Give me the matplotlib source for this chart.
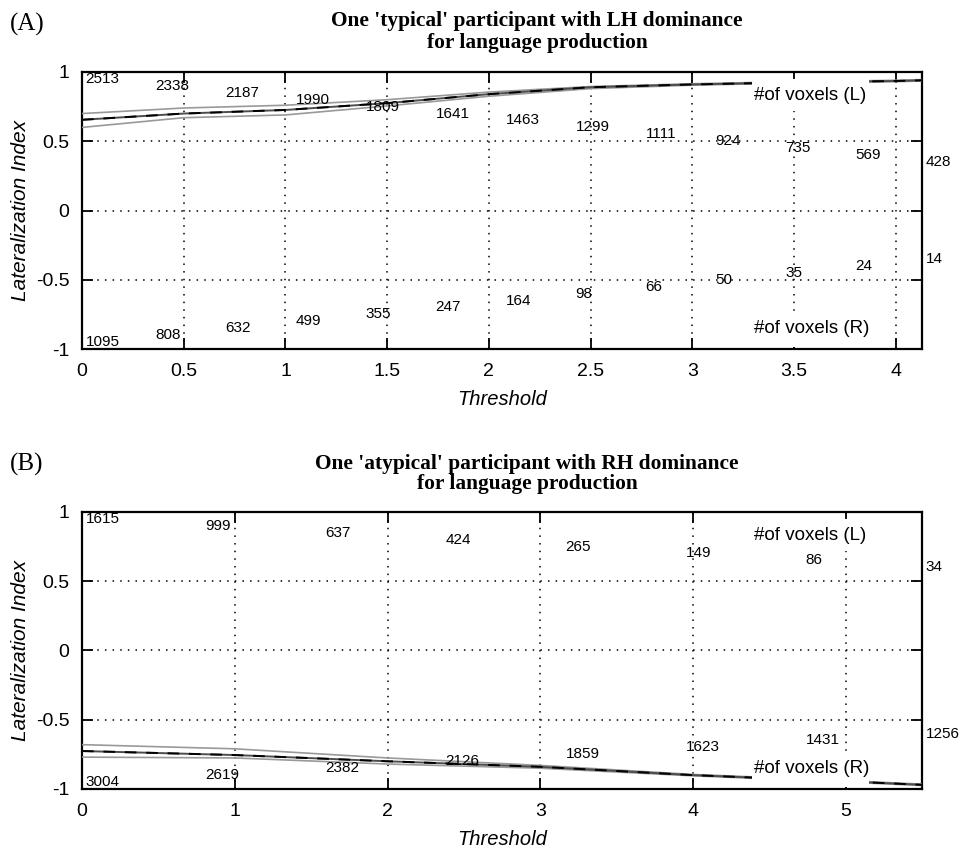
import matplotlib
matplotlib.use('Agg')
import matplotlib.pyplot as plt
from matplotlib.patches import Rectangle
import numpy as np

# ---- dados ----
# Painel A
a_xmax = 4.13
a_voxels_L = [2513, 2338, 2187, 1990, 1809, 1641, 1463, 1299, 1111, 924, 735, 569, 428]
a_voxels_R = [1095, 808, 632, 499, 355, 247, 164, 98, 66, 50, 35, 24, 14]
a_thr = [0, 0.5, 1, 1.5, 2, 2.5, 3, 3.5, 4, 4.13]
a_li = [0.655, 0.70, 0.726, 0.775, 0.84, 0.89, 0.91, 0.925, 0.935, 0.94]
a_li_hi = [0.70, 0.74, 0.76, 0.80, 0.855, 0.895, 0.915, 0.93, 0.94, 0.945]
a_li_lo = [0.60, 0.67, 0.69, 0.755, 0.825, 0.88, 0.905, 0.92, 0.93, 0.935]
a_xticks = [0, 0.5, 1, 1.5, 2, 2.5, 3, 3.5, 4]

# Painel B
b_xmax = 5.5
b_voxels_L = [1615, 999, 637, 424, 265, 149, 86, 34]
b_voxels_R = [3004, 2619, 2382, 2126, 1859, 1623, 1431, 1256]
b_thr = [0, 1, 2, 3, 4, 5, 5.5]
b_li = [-0.726, -0.755, -0.80, -0.84, -0.90, -0.945, -0.97]
b_li_hi = [-0.68, -0.71, -0.776, -0.83, -0.895, -0.94, -0.965]
b_li_lo = [-0.77, -0.776, -0.82, -0.85, -0.905, -0.95, -0.975]
b_xticks = [0, 1, 2, 3, 4, 5]

yticks = [-1, -0.5, 0, 0.5, 1]
ytick_labels = ['-1', '-0.5', '0', '0.5', '1']

titulo_a = "One 'typical' participant with LH dominance\nfor language production"
titulo_b = "One 'atypical' participant with RH dominance\nfor language production"

sans = 'Liberation Sans'
serif = 'Liberation Serif'


def painel(ax, xmax, xticks, thr, li, hi, lo, vL, vR):
    ax.set_xlim(0, xmax)
    ax.set_ylim(-1, 1)
    ax.set_xticks(xticks)
    ax.set_xticklabels([('%g' % t) for t in xticks], fontfamily=sans, fontsize=14)
    ax.set_yticks(yticks)
    ax.set_yticklabels(ytick_labels, fontfamily=sans, fontsize=14)
    ax.grid(True, linestyle=(0, (1, 4)), color='black', linewidth=1.1)
    ax.tick_params(direction='in', length=8, width=1.3, top=True, right=True,
                   pad=9)
    ax.tick_params(axis='x', pad=10)
    for s in ax.spines.values():
        s.set_linewidth(1.6)

    # linhas do índice (intervalo + média)
    ax.plot(thr, hi, color='0.6', lw=1.2, zorder=3)
    ax.plot(thr, lo, color='0.6', lw=1.2, zorder=3)
    ax.plot(thr, li, color='0.3', lw=1.4, zorder=3)
    ax.plot(thr, li, color='black', lw=1.4, dashes=(6, 5), zorder=3)

    # contagens de voxels
    n = len(vL)
    xs = np.linspace(0, xmax, n)
    for i, (x, v) in enumerate(zip(xs, vL)):
        ax.text(x + 0.004 * xmax, 0.95 - 0.05 * i, str(v), fontfamily=sans,
                fontsize=11, ha='left', va='center', clip_on=False, zorder=4)
    for i, (x, v) in enumerate(zip(xs, vR)):
        ax.text(x + 0.004 * xmax, -0.95 + 0.05 * i, str(v), fontfamily=sans,
                fontsize=11, ha='left', va='center', clip_on=False, zorder=4)

    # fundo branco das legendas (cobre as linhas, como no original)
    ax.add_patch(Rectangle((0.797, 0.86), 0.14, 0.115, transform=ax.transAxes,
                           facecolor='white', edgecolor='none', zorder=4.5))
    ax.add_patch(Rectangle((0.797, 0.008), 0.14, 0.125, transform=ax.transAxes,
                           facecolor='white', edgecolor='none', zorder=4.5))
    ax.text(0.8, 0.915, '#of voxels (L)', transform=ax.transAxes, fontfamily=sans,
            fontsize=13.5, ha='left', va='center', zorder=5)
    ax.text(0.8, 0.075, '#of voxels (R)', transform=ax.transAxes, fontfamily=sans,
            fontsize=13.5, ha='left', va='center', zorder=5)

    ax.set_xlabel('Threshold', fontfamily=sans, fontstyle='italic', fontsize=14.5,
                  labelpad=7)
    ax.set_ylabel('Lateralization Index', fontfamily=sans, fontstyle='italic',
                  fontsize=15, labelpad=4)


fig = plt.figure(figsize=(9.63, 8.48), dpi=100)

ax_a = fig.add_axes([0.0852, 0.5884, 0.8723, 0.3267])
painel(ax_a, a_xmax, a_xticks, a_thr, a_li, a_li_hi, a_li_lo, a_voxels_L, a_voxels_R)

ax_b = fig.add_axes([0.0852, 0.0696, 0.8723, 0.3267])
painel(ax_b, b_xmax, b_xticks, b_thr, b_li, b_li_hi, b_li_lo, b_voxels_L, b_voxels_R)

fig.text(537 / 963, 1 - 32 / 848, titulo_a, fontfamily=serif, fontweight='bold',
         fontsize=15.4, ha='center', va='center', linespacing=1.1)
fig.text(527 / 963, 1 - 474 / 848, titulo_b, fontfamily=serif, fontweight='bold',
         fontsize=15.4, ha='center', va='center', linespacing=1.05)
fig.text(0.010, 1 - 24 / 848, '(A)', fontfamily=serif, fontsize=18, ha='left',
         va='center')
fig.text(0.010, 1 - 464 / 848, '(B)', fontfamily=serif, fontsize=18, ha='left',
         va='center')

fig.savefig('out.png', dpi=100)
